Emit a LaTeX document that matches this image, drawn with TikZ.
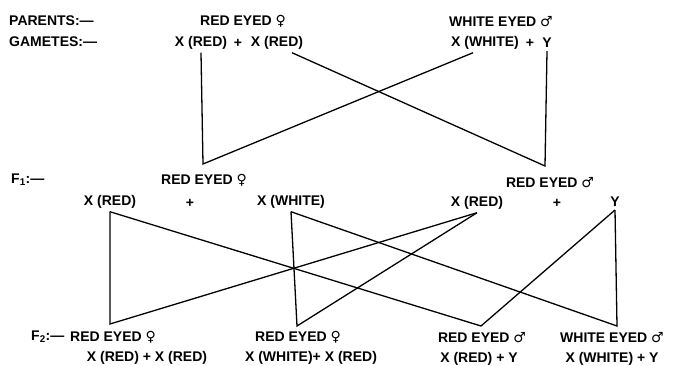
\documentclass[tikz,border=0pt]{standalone}
\usepackage{fontspec}
\setmainfont{Liberation Sans}
\newfontfamily\sexsym{DejaVu Sans}
\usepackage{tikz}
\usetikzlibrary{positioning, calc}

\newcommand{\fem}{{\sexsym\bfseries ♀}}
\newcommand{\mal}{{\sexsym\bfseries ♂}}

\begin{document}
\begin{tikzpicture} [
                x=1pt, y=-1pt,
                lab/.style={font=\bfseries\fontsize{14}{16}\selectfont, inner sep=1pt},
                gam/.style={lab, inner sep=3pt},
                cross/.style={line width=1.3pt, line join=miter}
            ]
            \useasboundingbox (0,0) rectangle (674,366);

            % Row labels
            \node[lab, anchor=west] (parents) at (8,21) {PARENTS:—};
            \node[lab, anchor=west] (gametes) at (8,42) {GAMETES:—};
            \node[lab, anchor=west] (fOne) at (10,180) {F\textsubscript{1}:—};
            \node[lab, anchor=west] (fTwo) at (30,337) {F\textsubscript{2}:—};

            % Parents
            \begin{scope}
                \node[lab] (redFemP) at (243,21) {RED EYED \fem};
                \node[gam] (gA) at (201,43) {X (RED)};
                \node[lab] (plusA) at (238,43) {+};
                \node[gam] (gB) at (277,43) {X (RED)};

                \node[lab] (whiteMalP) at (501,22) {WHITE EYED \mal};
                \node[gam] (gW) at (485,43) {X (WHITE)};
                \node[lab] (plusB) at (530,43) {+};
                \node[gam] (gY) at (547,43) {Y};
            \end{scope}

            % F1 generation
            \begin{scope}
                \node[lab] (redFemF) at (204,180) {RED EYED \fem};
                \node[gam] (fxR) at (110,202) {X (RED)};
                \node[lab] (plusC) at (190,203) {+};
                \node[gam] (fxW) at (291,202) {X (WHITE)};

                \node[lab] (redMalF) at (550,183) {RED EYED \mal};
                \node[gam] (mxR) at (477,203) {X (RED)};
                \node[lab] (plusD) at (557,203) {+};
                \node[gam] (mY) at (615,202) {Y};
            \end{scope}

            % F2 generation
            \begin{scope}
                \node[lab] (kidA) at (113,337) {RED EYED \fem};
                \node[lab] (genoA) at (147,358) {X (RED) + X (RED)};
                \node[lab] (kidB) at (298,337) {RED EYED \fem};
                \node[lab] (genoB) at (311,358) {X (WHITE)+ X (RED)};
                \node[lab] (kidC) at (482,338) {RED EYED \mal};
                \node[lab] (genoC) at (479,359) {X (RED) + Y};
                \node[lab] (kidD) at (612,338) {WHITE EYED \mal};
                \node[lab] (genoD) at (612,359) {X (WHITE) + Y};
            \end{scope}

            % meeting points
            \coordinate (vA) at (203,164);
            \coordinate (vB) at (545,166);
            \coordinate (vOne) at (110,324);
            \coordinate (vTwo) at (297,326);
            \coordinate (vThree) at (481,326);
            \coordinate (vFour) at (617,326);

            % Connections
            \draw[cross] (gA.south) -- (vA) -- ([xshift=-12pt]gW.south);
            \draw[cross] ([xshift=15pt]gB.south) -- (vB) -- (gY.south);

            \draw[cross] (fxR.south) -- (vOne) -- (mxR.south);
            \draw[cross] (fxR.south) -- (vThree) -- (mY.south);
            \draw[cross] (fxW.south) -- (vTwo) -- (mxR.south);
            \draw[cross] (fxW.south) -- (vFour) -- (mY.south);
        \end{tikzpicture}
\end{document}
